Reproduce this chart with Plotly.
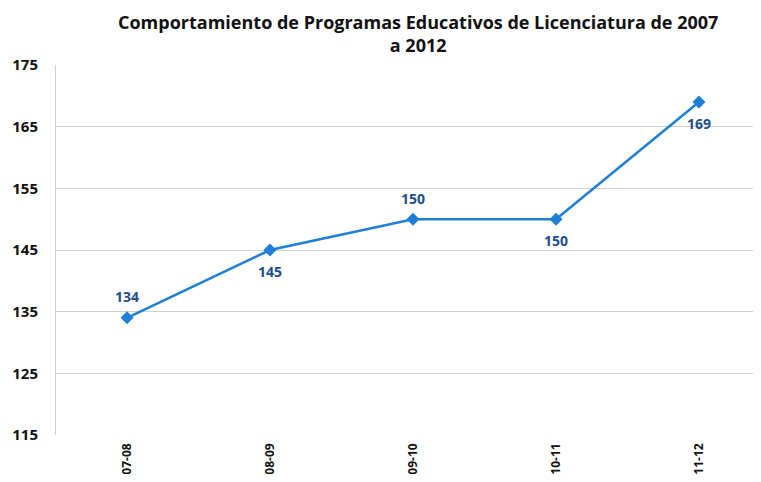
import plotly.graph_objects as go

periods = ["07-08", "08-09", "09-10", "10-11", "11-12"]
programas = [134, 145, 150, 150, 169]
label_above = [True, False, True, False, False]
y_ticks = [115, 125, 135, 145, 155, 165, 175]
title_text = "Comportamiento de Programas Educativos de Licenciatura de 2007<br>a 2012"

fig = go.Figure()
fig.add_trace(go.Scatter(
    x=periods, y=programas,
    mode="lines+markers",
    line=dict(color="#1E7FD6", width=2.5),
    marker=dict(symbol="diamond", size=10, color="#1E7FD6"),
    showlegend=False,
))

for p, v, above in zip(periods, programas, label_above):
    fig.add_annotation(
        x=p, y=v, text=str(v), showarrow=False,
        yshift=21 if above else -21,
        font=dict(family="Open Sans", size=14, color="#1F4E8C", weight="bold"),
    )

fig.add_annotation(
    text="<b>" + title_text + "</b>",
    xref="paper", yref="paper", x=0.519, y=1.0, yshift=57,
    xanchor="center", yanchor="top", showarrow=False,
    font=dict(family="Open Sans", size=18, color="#111111"),
    align="center",
)

fig.update_layout(
    width=745, height=466,
    margin=dict(l=48, r=0, t=57, b=39),
    paper_bgcolor="white", plot_bgcolor="white",
    font=dict(family="Open Sans", color="#111111"),
)
fig.update_xaxes(
    type="category", range=[-0.497, 4.378],
    tickangle=-90, tickfont=dict(size=12, weight="bold"),
    showgrid=False, showline=False, ticks="", automargin=False,
    ticklabelstandoff=5,
)
fig.update_yaxes(
    range=[115, 175], tickvals=y_ticks,
    tickfont=dict(size=15, weight="bold"),
    showgrid=True, gridcolor="#CFCFCF", gridwidth=1,
    showline=True, linecolor="#CFCFCF", linewidth=1,
    ticks="", ticklabelstandoff=14, zeroline=False, automargin=False,
)

fig.write_html("out.html")
